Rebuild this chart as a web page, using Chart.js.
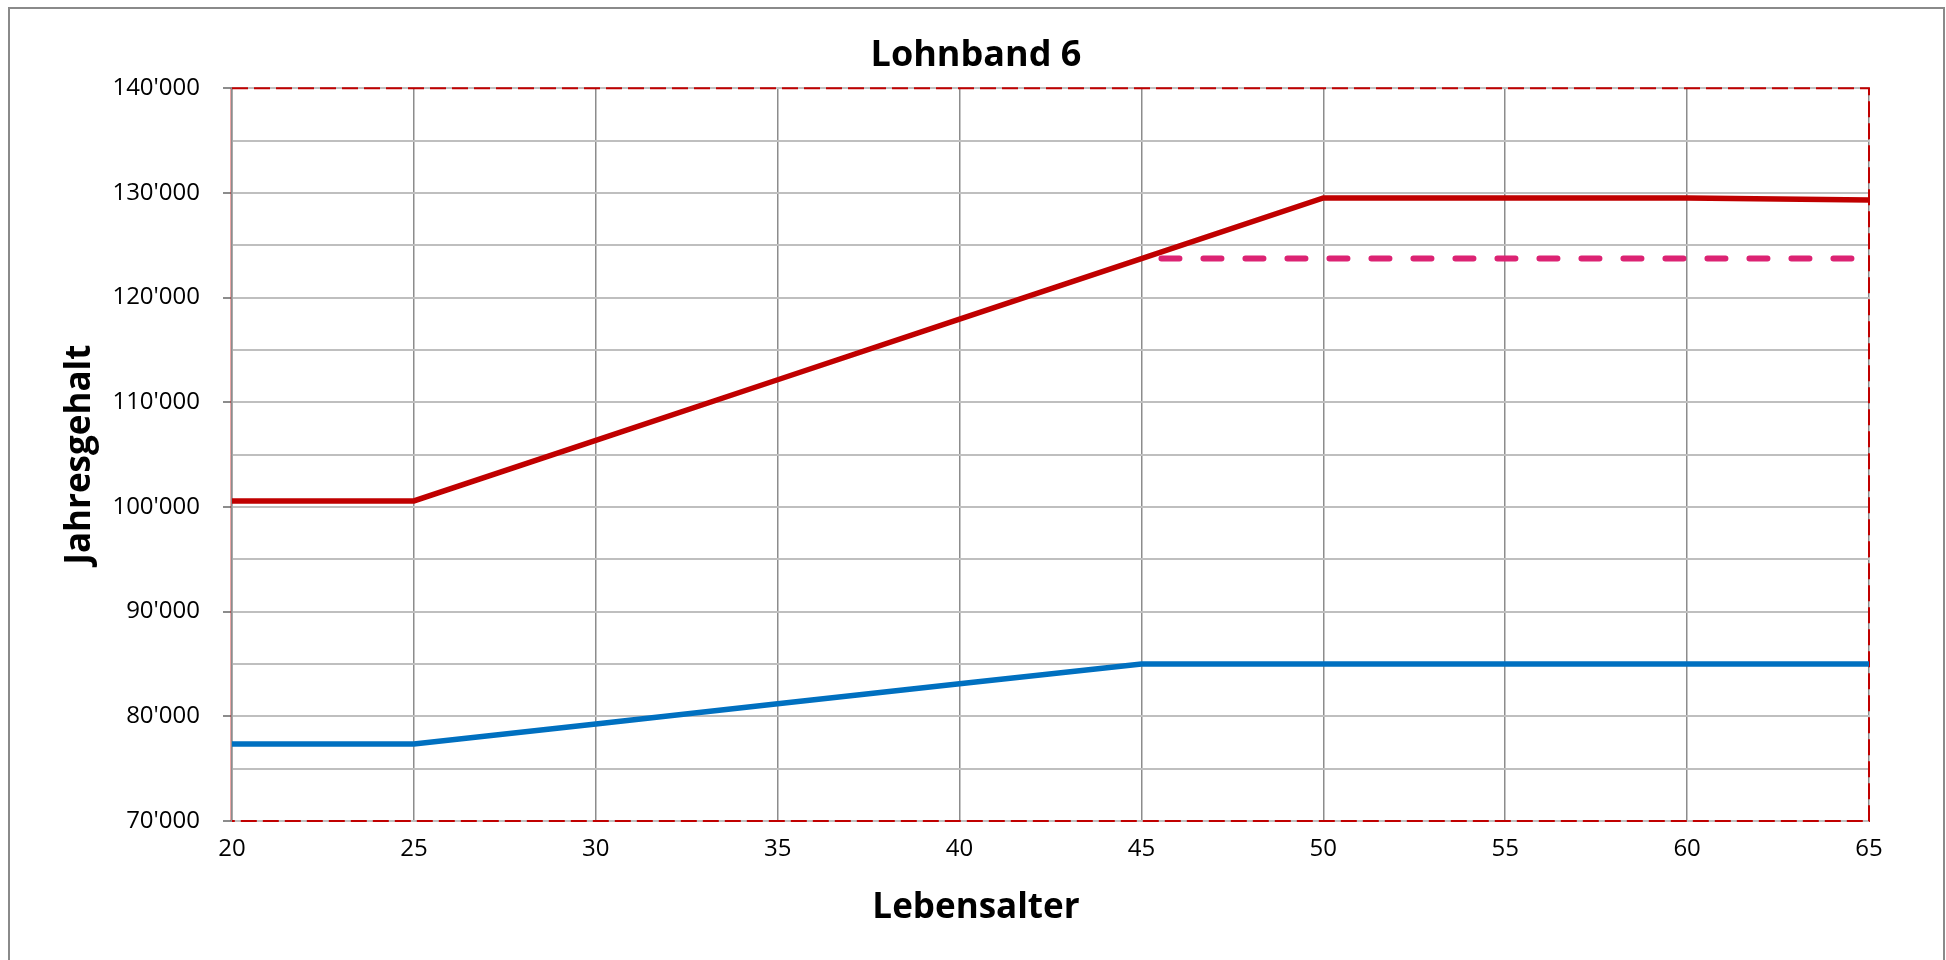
<!DOCTYPE html>
<html>
<head>
<meta charset="utf-8">
<script src="https://cdn.jsdelivr.net/npm/chart.js@4.4.0/dist/chart.umd.min.js"></script>
<style>
  html, body { margin: 0; padding: 0; background: #ffffff; }
  #wrap { width: 1946px; height: 960px; position: relative; }
</style>
</head>
<body>
<div id="wrap"><canvas id="c" width="1946" height="960"></canvas></div>
<script>
// ---- data ----
const titleText = 'Lohnband 6';
const xTitle = 'Lebensalter';
const yTitle = 'Jahresgehalt';

const ages = [20, 25, 30, 35, 40, 45, 50, 55, 60, 65];
const maxSalary = [100570, 100570, 106360, 112150, 117940, 123730, 129520, 129520, 129520, 129330];
const minSalary = [77350, 77350, 79260, 81200, 83120, 85000, 85000, 85000, 85000, 85000];
const refAges = [45, 65];
const refSalary = [123730, 123730];

const xTickValues = [20, 25, 30, 35, 40, 45, 50, 55, 60, 65];
const yTickValues = [70000, 80000, 90000, 100000, 110000, 120000, 130000, 140000];
const yTickLabels = ["70'000", "80'000", "90'000", "100'000", "110'000", "120'000", "130'000", "140'000"];

const toPts = (xs, ys) => xs.map((x, i) => ({ x: x, y: ys[i] }));

const FONT = "'Open Sans', sans-serif";

const frame = {
  id: 'frame',
  beforeDraw(chart) {
    const ctx = chart.ctx;
    ctx.save();
    ctx.fillStyle = '#ffffff';
    ctx.fillRect(0, 0, chart.width, chart.height);
    ctx.strokeStyle = '#8a8a8a';
    ctx.lineWidth = 2;
    ctx.strokeRect(9, 8, 1935, 1000);
    ctx.restore();
  },
  beforeDatasetsDraw(chart) {
    const { ctx, chartArea: a } = chart;
    ctx.save();
    ctx.strokeStyle = '#c00000';
    ctx.lineWidth = 2;
    ctx.setLineDash([16, 6]);
    ctx.beginPath();
    ctx.moveTo(a.left, a.top);
    ctx.lineTo(a.right, a.top);
    ctx.lineTo(a.right, a.bottom);
    ctx.lineTo(a.left, a.bottom);
    ctx.stroke();
    ctx.setLineDash([]);
    ctx.globalAlpha = 0.35;
    ctx.lineWidth = 1;
    ctx.beginPath();
    ctx.moveTo(a.left - 1.5, a.top);
    ctx.lineTo(a.left - 1.5, a.bottom);
    ctx.stroke();
    ctx.restore();
  }
};

new Chart(document.getElementById('c'), {
  type: 'line',
  data: {
    datasets: [
      {
        label: 'Maximum',
        data: toPts(ages, maxSalary),
        borderColor: '#c00000',
        borderWidth: 5.5,
        pointRadius: 0,
        tension: 0,
        borderJoinStyle: 'miter'
      },
      {
        label: 'Minimum',
        data: toPts(ages, minSalary),
        borderColor: '#0070c0',
        borderWidth: 5.5,
        pointRadius: 0,
        tension: 0,
        borderJoinStyle: 'miter'
      },
      {
        label: 'Referenz',
        data: toPts(refAges, refSalary),
        borderColor: '#dc2373',
        borderWidth: 6,
        borderDash: [18, 24],
        borderDashOffset: 22,
        borderCapStyle: 'round',
        pointRadius: 0,
        tension: 0
      }
    ]
  },
  options: {
    responsive: false,
    animation: false,
    devicePixelRatio: 1,
    layout: { padding: { left: 6, right: 0, top: 0, bottom: 0 } },
    plugins: {
      legend: { display: false },
      tooltip: { enabled: false },
      title: {
        display: true,
        text: titleText,
        color: '#000000',
        font: { family: FONT, size: 36, weight: 'bold' },
        padding: { top: 34, bottom: 11 }
      },
      subtitle: {
        display: true,
        position: 'bottom',
        text: xTitle,
        color: '#000000',
        font: { family: FONT, size: 35, weight: 'bold' },
        padding: { top: 0, bottom: 31 }
      }
    },
    scales: {
      x: {
        type: 'linear',
        min: 20,
        max: 65,
        afterBuildTicks: (s) => { s.ticks = xTickValues.map(v => ({ value: v })); },
        afterFit: (s) => { s.height = 66; s.paddingRight = 77; },
        grid: {
          color: '#8c8c8c',
          lineWidth: 1.5,
          drawTicks: false
        },
        border: { display: false },
        ticks: {
          color: '#000000',
          font: { family: FONT, size: 24 },
          padding: 14,
          maxRotation: 0,
          callback: (v) => String(v)
        }
      },
      y: {
        type: 'linear',
        min: 70000,
        max: 140000,
        afterFit: (s) => { s.width = 226; },
        ticks: {
          stepSize: 5000,
          color: '#000000',
          font: { family: FONT, size: 24 },
          padding: 23,
          autoSkip: false,
          callback: (v) => {
            const i = yTickValues.indexOf(v);
            return i >= 0 ? yTickLabels[i] : '';
          }
        },
        grid: {
          color: '#bfbfbf',
          lineWidth: 2,
          drawTicks: true,
          tickLength: 9,
          tickColor: (c) => (c.tick && yTickValues.indexOf(c.tick.value) >= 0) ? '#8c8c8c' : 'rgba(0,0,0,0)',
          tickWidth: 2
        },
        border: { display: true, color: '#8c8c8c', width: 1.5 },
        title: {
          display: true,
          text: yTitle,
          color: '#000000',
          font: { family: FONT, size: 35, weight: 'bold' },
          padding: { top: 53, bottom: 0 }
        }
      }
    }
  },
  plugins: [frame]
});
</script>
</body>
</html>
